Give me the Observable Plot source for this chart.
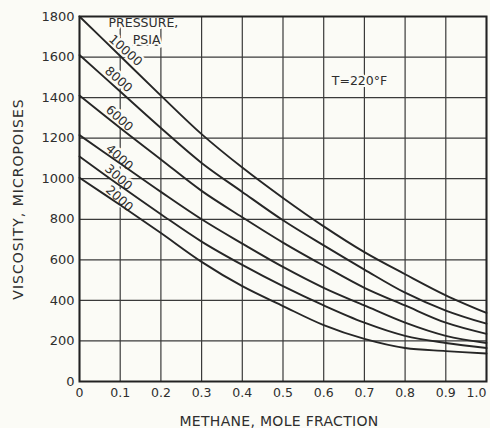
<!DOCTYPE html>
<html>
<head>
<meta charset="utf-8">
<script src="https://cdn.jsdelivr.net/npm/d3@7"></script>
<script src="https://cdn.jsdelivr.net/npm/@observablehq/plot@0.6"></script>
<style>
  html, body { margin: 0; padding: 0; background: #fbfbf6; }
  #chart svg { display: block; }
</style>
</head>
<body>
<div id="chart"></div>
<script>
// Methane mole fraction (x) and viscosity in micropoises for each pressure (psia)
const fraction = [0, 0.1, 0.2, 0.3, 0.4, 0.5, 0.6, 0.7, 0.8, 0.9, 1.0];
const p10000 = [1800, 1605, 1410, 1220, 1055, 905, 765, 638, 529, 425, 338];
const p8000  = [1610, 1430, 1250, 1078, 935, 795, 671, 552, 438, 350, 285];
const p6000  = [1410, 1250, 1095, 940, 810, 685, 571, 462, 375, 290, 235];
const p4000  = [1215, 1075, 935, 800, 680, 565, 462, 375, 290, 225, 190];
const p3000  = [1110, 965, 825, 690, 575, 470, 375, 290, 225, 190, 165];
const p2000  = [1005, 870, 732, 590, 470, 372, 278, 210, 165, 150, 138];

const pressures = ["10000", "8000", "6000", "4000", "3000", "2000"];
const seriesValues = [p10000, p8000, p6000, p4000, p3000, p2000];

// curve label anchor positions (data units)
const labelX = [0.113, 0.096, 0.098, 0.098, 0.096, 0.098];
const labelY = [1632, 1489, 1297, 1105, 1006, 902];

const xTicks = [0, 0.1, 0.2, 0.3, 0.4, 0.5, 0.6, 0.7, 0.8, 0.9, 1.0];
const xTickLabels = ["0", "0.1", "0.2", "0.3", "0.4", "0.5", "0.6", "0.7", "0.8", "0.9", "1.0"];
const yTicks = [0, 200, 400, 600, 800, 1000, 1200, 1400, 1600, 1800];

const xTitle = "METHANE, MOLE FRACTION";
const yTitle = "VISCOSITY, MICROPOISES";
const notes = [
  {x: 0.157, y: 1768, text: "PRESSURE,"},
  {x: 0.165, y: 1686, text: "PSIA"},
  {x: 0.688, y: 1484, text: "T=220°F"}
];

const rows = [];
pressures.forEach((p, k) => {
  fraction.forEach((f, i) => rows.push({p, x: f, v: seriesValues[k][i]}));
});
const labels = pressures.map((p, k) => ({p, x: labelX[k], y: labelY[k]}));

const bg = "#fbfbf6";
const ink = "#2e2e2e";
const font = "DejaVu Sans, Verdana, sans-serif";
const fmtX = d => xTickLabels[Math.round(d * 10)];

const chart = Plot.plot({
  width: 490,
  height: 428,
  marginLeft: 79,
  marginRight: 4,
  marginTop: 16,
  marginBottom: 47,
  x: {domain: [0, 1], ticks: xTicks},
  y: {domain: [0, 1800], ticks: yTicks},
  style: {background: bg, fontFamily: font, color: ink},
  marks: [
    Plot.gridX(xTicks, {stroke: "#3a3a3a", strokeOpacity: 1, strokeWidth: 1.2}),
    Plot.gridY(yTicks, {stroke: "#3a3a3a", strokeOpacity: 1, strokeWidth: 1.2}),
    Plot.axisX(xTicks.slice(0, -1), {tickSize: 0, tickPadding: 7, fontSize: 12.5, fill: ink,
      tickFormat: fmtX, label: null}),
    Plot.axisX(xTicks.slice(-1), {tickSize: 0, tickPadding: 7, fontSize: 12.5, fill: ink,
      tickFormat: fmtX, label: null, dx: -10}),
    Plot.axisY(yTicks, {tickSize: 0, tickPadding: 5, fontSize: 13, fill: ink,
      tickFormat: d => String(d), label: null}),
    Plot.text(labels, {x: "x", y: "y", text: "p", rotate: 42, fontSize: 12.5,
      fill: ink, stroke: bg, strokeWidth: 5}),
    Plot.text(notes, {x: "x", y: "y", text: "text", fontSize: 12.5, fill: ink,
      stroke: bg, strokeWidth: 4}),
    Plot.line(rows, {x: "x", y: "v", z: "p", curve: "catmull-rom",
      stroke: "#262626", strokeWidth: 1.9}),
    Plot.frame({stroke: "#222", strokeWidth: 2}),
    Plot.text([xTitle], {frameAnchor: "bottom", dy: 40, dx: -4, fontSize: 14, fill: ink,
      textAnchor: "middle", lineAnchor: "middle"}),
    Plot.text([yTitle], {frameAnchor: "left", dx: -61, rotate: -90, fontSize: 14, fill: ink,
      textAnchor: "middle", lineAnchor: "middle"})
  ]
});

d3.select(chart).selectAll("text").each(function() {
  const t = d3.select(this);
  if (t.text() === "PSIA") t.style("text-decoration", "underline");
  if (t.text() === yTitle) t.style("letter-spacing", "1px");
  if (t.text() === xTitle) t.style("letter-spacing", "0.3px");
});

document.getElementById("chart").appendChild(chart);
</script>
</body>
</html>
